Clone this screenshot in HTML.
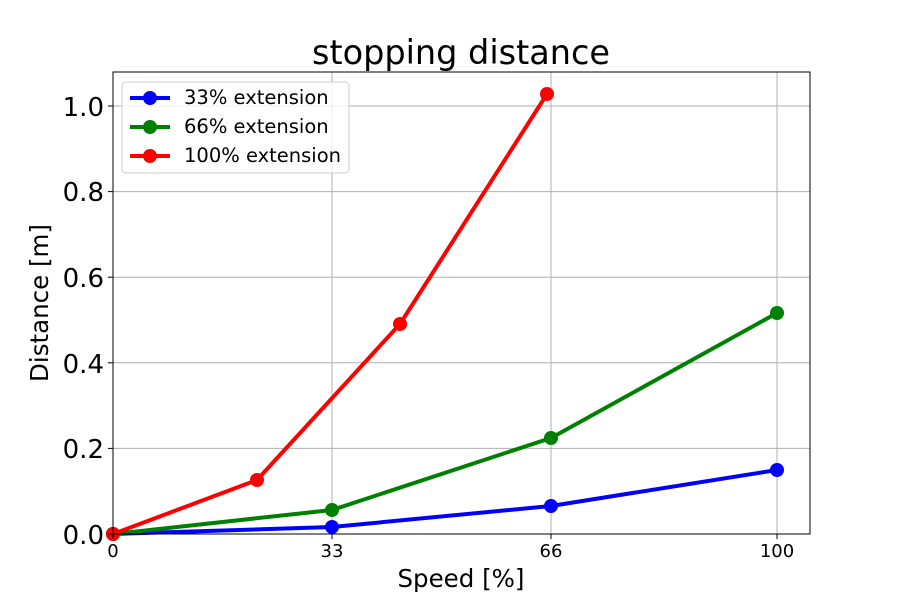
<!DOCTYPE html>
<html><head><style>body{margin:0;background:#fff}svg{display:block}text{font-family:"DejaVu Sans","Liberation Sans",sans-serif}</style></head><body>
<svg width="900" height="600" xmlns="http://www.w3.org/2000/svg">
<rect width="900" height="600" fill="#fff"/>
<g stroke="#b0b0b0" stroke-width="1">
<line x1="332" y1="72" x2="332" y2="534"/><line x1="551" y1="72" x2="551" y2="534"/><line x1="777" y1="72" x2="777" y2="534"/>
<line x1="113" y1="448.4" x2="810" y2="448.4"/><line x1="113" y1="362.8" x2="810" y2="362.8"/><line x1="113" y1="277.2" x2="810" y2="277.2"/><line x1="113" y1="191.6" x2="810" y2="191.6"/><line x1="113" y1="106" x2="810" y2="106"/>
</g>
<g fill="none" stroke-width="4" stroke-linejoin="round">
<polyline stroke="#0000ff" points="113,534 332,527 551,506 777,470"/>
<polyline stroke="#008000" points="113,534 332,510 551,438 777,313"/>
<polyline stroke="#ff0000" points="113,534 257,480 400,324 547,94"/>
</g>
<g fill="#0000ff"><circle cx="113" cy="534" r="7"/><circle cx="332" cy="527" r="7"/><circle cx="551" cy="506" r="7"/><circle cx="777" cy="470" r="7"/></g>
<g fill="#008000"><circle cx="113" cy="534" r="7"/><circle cx="332" cy="510" r="7"/><circle cx="551" cy="438" r="7"/><circle cx="777" cy="313" r="7"/></g>
<g fill="#ff0000"><circle cx="113" cy="534" r="7"/><circle cx="257" cy="480" r="7"/><circle cx="400" cy="324" r="7"/><circle cx="547" cy="94" r="7"/></g>
<rect x="113" y="72" width="697" height="462" fill="none" stroke="#000" stroke-width="1"/>
<g stroke="#000"><line x1="113" y1="534" x2="113" y2="539"/><line x1="332" y1="534" x2="332" y2="539"/><line x1="551" y1="534" x2="551" y2="539"/><line x1="777" y1="534" x2="777" y2="539"/>
<line x1="108" y1="534" x2="113" y2="534"/><line x1="108" y1="448.4" x2="113" y2="448.4"/><line x1="108" y1="362.8" x2="113" y2="362.8"/><line x1="108" y1="277.2" x2="113" y2="277.2"/><line x1="108" y1="191.6" x2="113" y2="191.6"/><line x1="108" y1="106" x2="113" y2="106"/></g>
<g font-size="18" text-anchor="middle"><text x="113" y="557">0</text><text x="332" y="557">33</text><text x="551" y="557">66</text><text x="777" y="557">100</text></g>
<g font-size="26" text-anchor="end"><text x="104" y="544">0.0</text><text x="104" y="458">0.2</text><text x="104" y="373">0.4</text><text x="104" y="287">0.6</text><text x="104" y="201">0.8</text><text x="104" y="116">1.0</text></g>
<text x="461" y="587" font-size="24.5" text-anchor="middle">Speed [%]</text>
<text transform="translate(48,303) rotate(-90)" font-size="24.5" text-anchor="middle">Distance [m]</text>
<text x="461" y="64" font-size="33.5" text-anchor="middle">stopping distance</text>
<rect x="122" y="82" width="227" height="91" rx="4" fill="#fff" fill-opacity="0.8" stroke="#ccc"/>
<line x1="130" y1="98" x2="170" y2="98" stroke="#0000ff" stroke-width="4"/><circle cx="150" cy="98" r="7" fill="#0000ff"/>
<line x1="130" y1="127" x2="170" y2="127" stroke="#008000" stroke-width="4"/><circle cx="150" cy="127" r="7" fill="#008000"/>
<line x1="130" y1="156" x2="170" y2="156" stroke="#ff0000" stroke-width="4"/><circle cx="150" cy="156" r="7" fill="#ff0000"/>
<g font-size="19.5"><text x="184" y="104">33% extension</text><text x="184" y="133">66% extension</text><text x="184" y="162">100% extension</text></g>
</svg>
</body></html>
